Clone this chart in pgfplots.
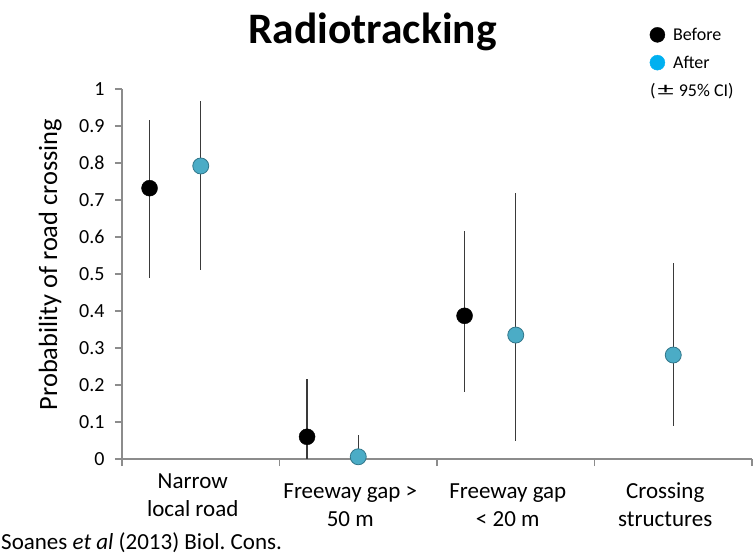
\documentclass[border=0pt]{standalone}
\usepackage{pgfplots}
\pgfplotsset{compat=1.18}
\usepackage{fontspec}
\setmainfont{Carlito}
\frenchspacing
\definecolor{afterfill}{HTML}{4BACC6}
\definecolor{afteredge}{HTML}{31768A}
\definecolor{legafter}{HTML}{00B0F0}
\definecolor{axgray}{HTML}{8C8C8C}
\definecolor{errgray}{HTML}{3A3A3A}
\newcommand{\tl}[2]{\begin{tabular}[t]{@{}c@{}}#1\\#2\end{tabular}}
\begin{document}
\begin{tikzpicture}
\useasboundingbox (0,0) rectangle (754bp,-559bp);
\begin{axis}[
  at={(122bp,-459bp)}, anchor=south west,
  scale only axis, width=630bp, height=370bp,
  xmin=-0.5, xmax=3.5, ymin=0, ymax=1,
  axis lines=left,
  axis line style={draw=axgray, line width=1.2bp, -},
  xtick={-0.5,0.5,1.5,2.5,3.5},
  xticklabels={},
  extra x ticks={0,1,2,3},
  extra x tick labels={{\raisebox{10bp}{\tl{Narrow}{local road}}},{\tl{Freeway gap >}{50 m}},{\tl{Freeway gap}{< 20 m}},{\tl{Crossing}{structures}}},
  extra x tick style={major tick length=0pt, tick style={draw=none},
    xticklabel style={anchor=base, font=\fontsize{23bp}{28bp}\selectfont, yshift=-39bp, xshift=-8bp}},
  ytick={0,0.1,...,1},
  yticklabel style={font=\fontsize{20bp}{23bp}\selectfont, xshift=-7bp},
  tick align=outside,
  major tick length=7bp,
  tick style={draw=axgray, line width=1.2bp},
  /pgf/number format/assume math mode=true,
  clip=false,
  legend style={draw=none, fill=none, at={(rel axis cs:0.8373,1.171)}, anchor=north west,
    font=\fontsize{18bp}{21bp}\selectfont, row sep=10bp, inner sep=0pt},
  legend cell align=left,
  legend image code/.code={\draw[#1] plot coordinates {(7.5bp,0bp)}; \path (0bp,0bp) (21bp,0bp);},
]
% error bars
\addplot[only marks, mark=none, forget plot,
  error bars/.cd, y dir=both, y explicit, error mark=none,
  error bar style={draw=errgray, line width=1.2bp}]
  coordinates {
  (-0.325,0.732) += (0,0.184) -= (0,0.242)
  (0.675,0.060) += (0,0.156) -= (0,0.060)
  (1.675,0.387) += (0,0.229) -= (0,0.206)
  (0,0.792) += (0,0.175) -= (0,0.282)
  (1,0.006) += (0,0.059) -= (0,0.006)
  (2,0.335) += (0,0.385) -= (0,0.286)
  (3,0.281) += (0,0.249) -= (0,0.191)
  };
% before
\addplot[only marks, forget plot, mark=*, mark size=8bp, mark options={fill=black, draw=black}]
  coordinates {(-0.325,0.732) (0.675,0.060) (1.675,0.387)};
% after
\addplot[only marks, forget plot, mark=*, mark size=8bp, mark options={fill=afterfill, draw=afteredge, line width=0.8bp}]
  coordinates {(0,0.792) (1,0.006) (2,0.335) (3,0.281)};
\addlegendimage{only marks, mark=*, mark size=7.5bp, mark options={fill=black, draw=black}}
\addlegendentry{Before}
\addlegendimage{only marks, mark=*, mark size=7.5bp, mark options={fill=legafter, draw=legafter}}
\addlegendentry{After}
\end{axis}
\node[anchor=base, font=\fontsize{43.5bp}{47bp}\selectfont\bfseries] at (372.5bp,-43bp) {Radiotracking};
\node[anchor=base west, font=\fontsize{18bp}{21bp}\selectfont, inner sep=0pt] at (650bp,-96bp) {(\hspace{2bp}\raisebox{0.02em}{\scalebox{1.8}[1]{±}}\hspace{1bp} 95\% CI)};
\node[rotate=90, anchor=base, font=\fontsize{26.4bp}{30bp}\selectfont, inner sep=0pt] at (57bp,-264.5bp) {Probability of road crossing};
\node[anchor=base west, font=\fontsize{23bp}{26bp}\selectfont, inner sep=0pt] at (1bp,-549bp) {Soanes \textit{et al} (2013) Biol. Cons.};
\end{tikzpicture}
\end{document}
